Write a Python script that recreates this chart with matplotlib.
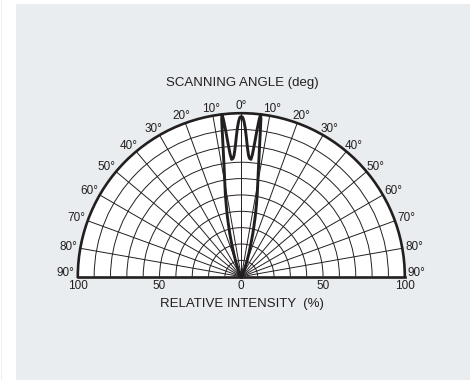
import numpy as np
import matplotlib
matplotlib.use("Agg")
import matplotlib.pyplot as plt
from matplotlib.patches import Rectangle

plt.rcParams['font.family'] = ['Liberation Sans', 'DejaVu Sans']

# ---- data ----
scan_angle_deg = [-40, -30, -25, -20, -18, -16, -15, -14, -13, -12, -11, -10, -9.0, -8.5, -8.0, -7.5,
                  -7.1, -6.8, -6.5, -6.1, -5.7, -5.2, -4.7, -4.0, -3.5, -3.0, -2.5, -2.0, -1.5, -1.0, -0.5,
                  0,
                  0.5, 1.0, 1.5, 2.0, 2.5, 3.0, 3.5, 4.0, 4.7, 5.2, 5.7, 6.1, 6.5, 6.8, 7.1, 7.5, 8.0, 8.5,
                  9.0, 10, 11, 12, 13, 14, 15, 16, 18, 20, 25, 30, 40]
rel_intensity = [0, 1.5, 4, 10, 15, 22, 27, 32, 38, 44, 51, 58, 67, 73, 80, 89,
                 97, 100, 97, 90, 82, 75, 72, 72.5, 74, 77, 81, 86, 91, 95, 97.5,
                 98,
                 97.5, 95, 91, 86, 81, 77, 74, 72.5, 72, 75, 82, 90, 97, 100, 97, 89, 80, 73,
                 67, 58, 51, 44, 38, 32, 27, 22, 15, 10, 4, 1.5, 0]
grid_angles = list(range(-90, 91, 10))
angle_labels = [f"{abs(a)}°" for a in grid_angles]
grid_radii = list(range(10, 101, 10))
intensity_ticks = [100, 50, 0, 50, 100]
intensity_tick_side = [-90, -90, 0, 90, 90]

title = "SCANNING ANGLE (deg)"
xlabel = "RELATIVE INTENSITY  (%)"

# ---- figure ----
W, H = 477, 380
fig = plt.figure(figsize=(W / 100, H / 100), dpi=100)
fig.patch.set_facecolor('white')
fig.patches.append(Rectangle((16 / W, 0), 454 / W, 376 / H, transform=fig.transFigure,
                             facecolor='#e9edf0', edgecolor='none', zorder=-10))
fig.patches.append(Rectangle((1 / W, 0), 1 / W, 1, transform=fig.transFigure,
                             facecolor='#eceff1', edgecolor='none', zorder=-10))

# polar axes box is square; the half-disc is centred inside it
cx, cy, R = 241.3, 276.7, 163.5
ax = fig.add_axes([(cx - R) / W, (H - (cy + 0.5 * R)) / H, 2 * R / W, 2 * R / H], projection='polar')
ax.set_zorder(1)
ax.set_theta_zero_location('N')
ax.set_theta_direction(-1)
ax.set_thetamin(-90)
ax.set_thetamax(90)
ax.set_rlim(0, 100)
ax.set_facecolor('white')

ink = '#231f20'
ax.set_thetagrids(grid_angles, labels=[''] * len(grid_angles))
ax.set_rgrids(grid_radii, labels=[''] * len(grid_radii))
ax.grid(True, color=ink, linewidth=0.7)
for name, sp in ax.spines.items():
    sp.set_color(ink)
    sp.set_linewidth(1.9)
ax.spines['inner'].set_visible(False)

ax.plot(np.deg2rad(scan_angle_deg), rel_intensity, color=ink, linewidth=2.1,
        solid_joinstyle='round', zorder=5, clip_on=False)

# angle labels around the arc
for a, lab in zip(grid_angles, angle_labels):
    t = np.deg2rad(a)
    dx = 12 * np.sin(t)
    dy = 7 * np.cos(t) + (4 if abs(a) == 90 else 0)
    ax.annotate(lab, xy=(t, 100), xytext=(dx, dy), textcoords='offset pixels',
                ha='center', va='center', fontsize=8.5, color=ink, annotation_clip=False)

# intensity labels under the baseline
for val, side in zip(intensity_ticks, intensity_tick_side):
    ax.annotate(str(val), xy=(np.deg2rad(side), val), xytext=(0, -9.5), textcoords='offset pixels',
                ha='center', va='center', fontsize=8.5, color=ink, annotation_clip=False)

fig.text(242 / W, (H - 83.3) / H, title, ha='center', va='center', fontsize=9.5, color=ink)
fig.text(242 / W, (H - 304.3) / H, xlabel, ha='center', va='center', fontsize=9.5, color=ink)

fig.savefig('out.png', dpi=100, facecolor=fig.get_facecolor())
